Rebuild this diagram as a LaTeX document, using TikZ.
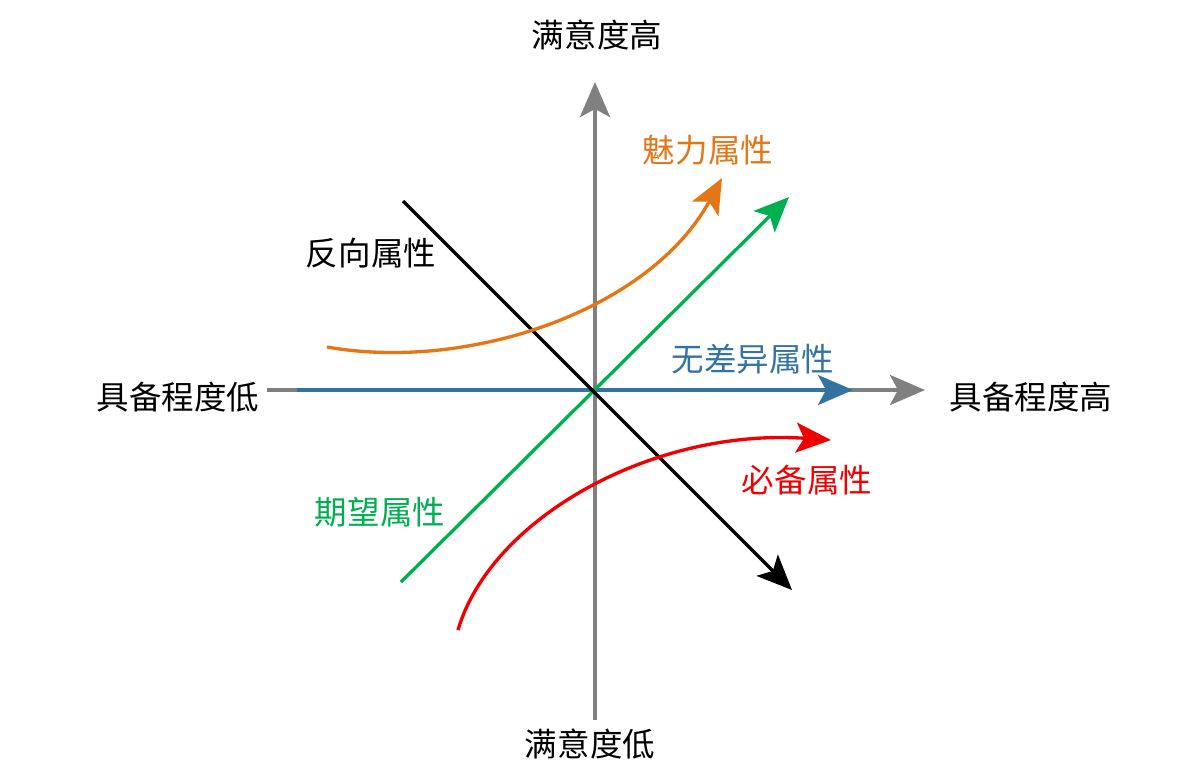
\documentclass[tikz,border=0pt]{standalone}
\usepackage{fontspec}
\newfontfamily\cjk{Noto Sans CJK SC}
\usepackage{xcolor}
\usetikzlibrary{arrows.meta,positioning}

\definecolor{axisgray}{RGB}{128,128,128}
\definecolor{kanoorange}{RGB}{228,118,22}
\definecolor{kanogreen}{RGB}{0,176,80}
\definecolor{kanoblue}{RGB}{52,115,160}
\definecolor{kanored}{RGB}{240,0,0}

\begin{document}
\begin{tikzpicture}[
  x=0.02cm, y=-0.02cm,
  font=\cjk\fontsize{18.5}{22}\selectfont,
  >={Stealth[length=0.7cm, width=0.6cm, inset=0.16cm]},
  axis/.style={->, draw=axisgray, line width=2.3pt},
  attr/.style={->, line width=1.9pt},
  lbl/.style={inner sep=1pt}
]
\useasboundingbox (0,0) rectangle (1204,769);

% axes
\coordinate (xl) at (267,390);
\coordinate (xr) at (925,390);
\coordinate (yb) at (595,720);
\coordinate (yt) at (595,82);
\draw[axis] (xl) -- (xr);
\draw[axis] (yb) -- (yt);

\node[lbl] (top)   at (597,35)  {满意度高};
\node[lbl] (bot)   at (590,744) {满意度低};
\node[lbl] (left)  at (178,397) {具备程度低};
\node[lbl] (right) at (1031,397) {具备程度高};

% indifferent
\coordinate (i0) at (297,390);
\coordinate (i1) at (853,390);
\draw[attr, draw=kanoblue, fill=kanoblue] (i0) -- (i1);
\node[lbl, text=kanoblue] (indiff) at (753,359) {无差异属性};

% one-dimensional
\coordinate (g0) at (401,582);
\coordinate (g1) at (789,197);
\draw[attr, draw=kanogreen] (g0) -- (g1);
\node[lbl, text=kanogreen] (perf) at (380,512) {期望属性};

% reverse
\coordinate (r0) at (403,201);
\coordinate (r1) at (792,590);
\draw[attr, draw=black] (r0) -- (r1);
\node[lbl] (rev) at (371,253) {反向属性};

% attractive
\coordinate (a0) at (327,347);
\coordinate (a1) at (722,178);
\draw[attr, draw=kanoorange] (a0) .. controls (470,372) and (650,310) .. (a1);
\node[lbl, text=kanoorange] (attr) at (708,150) {魅力属性};

% must-be
\coordinate (m0) at (458,630);
\coordinate (m1) at (831,440);
\draw[attr, draw=kanored] (m0) .. controls (490,520) and (650,428) .. (m1);
\node[lbl, text=kanored] (must) at (807,480) {必备属性};
\end{tikzpicture}
\end{document}
